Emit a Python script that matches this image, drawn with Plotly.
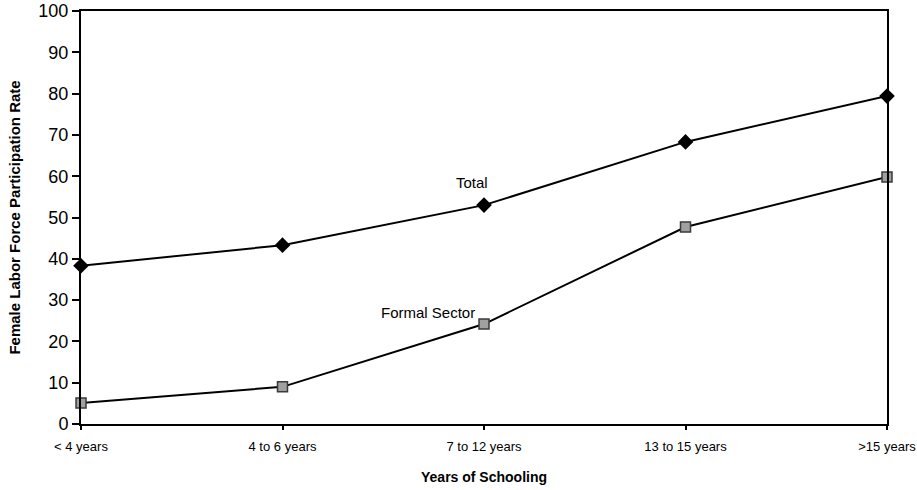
import plotly.graph_objects as go

categories = ["< 4 years", "4 to 6 years", "7 to 12 years", "13 to 15 years", ">15 years"]
total = [38.3, 43.3, 53.0, 68.3, 79.4]
formal = [5.1, 9.0, 24.2, 47.7, 59.8]

xs = list(range(len(categories)))
FONT = "Arial, Liberation Sans, Helvetica"

fig = go.Figure()
fig.add_trace(go.Scatter(x=xs, y=total, mode="lines+markers", name="Total",
                         cliponaxis=False,
                         line=dict(color="black", width=2),
                         marker=dict(symbol="diamond", size=12, color="black")))
fig.add_trace(go.Scatter(x=xs, y=formal, mode="lines+markers", name="Formal Sector",
                         cliponaxis=False,
                         line=dict(color="black", width=2),
                         marker=dict(symbol="square", size=10, color="#a0a0a0",
                                     line=dict(color="#3a3a3a", width=1.5))))

fig.add_annotation(x=1.94, y=58.5, text="Total", showarrow=False,
                   font=dict(family=FONT, size=15, color="black"))
fig.add_annotation(x=1.72, y=27.0, text="Formal Sector", showarrow=False,
                   font=dict(family=FONT, size=15, color="black"))

fig.add_annotation(xref="paper", yref="paper", x=0.5, y=-0.104, yanchor="top",
                   text="<b>Years of Schooling</b>", showarrow=False,
                   font=dict(family=FONT, size=14, color="black"))
fig.add_annotation(xref="paper", yref="paper", x=-0.083, y=0.5, textangle=-90,
                   xanchor="center", yanchor="middle",
                   text="<b>Female Labor Force Participation Rate</b>", showarrow=False,
                   font=dict(family=FONT, size=15, color="black"))

fig.update_layout(
    width=917, height=490,
    margin=dict(l=81, r=30, t=11, b=66, autoexpand=False),
    paper_bgcolor="white", plot_bgcolor="white",
    showlegend=False,
    font=dict(family=FONT, color="black"),
    xaxis=dict(range=[0, 4], tickvals=xs, ticktext=categories, automargin=False,
               showgrid=False, zeroline=False,
               showline=True, linecolor="black", linewidth=2, mirror=True,
               ticks="outside", ticklen=4, tickwidth=1.5, tickcolor="black",
               ticklabelstandoff=5,
               tickfont=dict(size=13)),
    yaxis=dict(range=[0, 100], dtick=10, automargin=False,
               showgrid=False, zeroline=False,
               showline=True, linecolor="black", linewidth=2, mirror=True,
               ticks="outside", ticklen=7, tickwidth=1.5, tickcolor="black",
               tickfont=dict(size=18)),
)

fig.write_html("out.html", config={"displayModeBar": False},
               post_script="document.body.style.margin='0';document.body.style.overflow='hidden';")
